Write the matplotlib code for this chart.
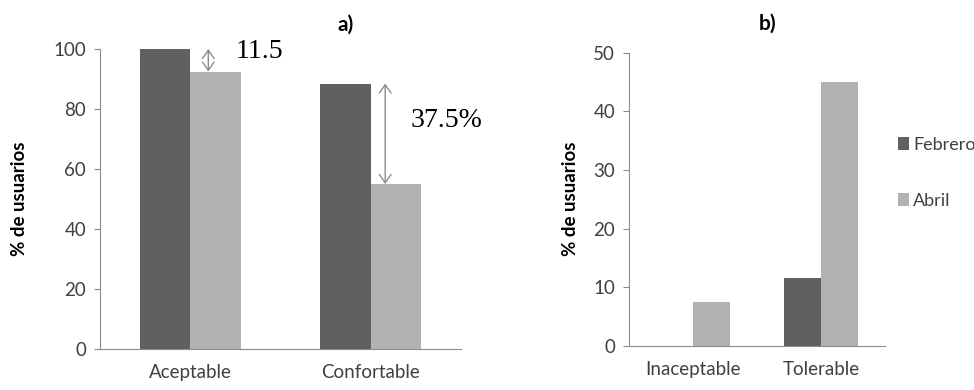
import numpy as np
import matplotlib.pyplot as plt

plt.rcParams['font.family'] = ['Lato', 'DejaVu Sans']

# panel a
cats_a = ["Aceptable", "Confortable"]
febrero_a = [100, 88.5]
abril_a = [92.5, 55]

# panel b
cats_b = ["Inaceptable", "Tolerable"]
febrero_b = [0, 11.5]
abril_b = [7.5, 45]

series = ["Febrero", "Abril"]
dark = "#606060"
light = "#b2b2b2"
axis_col = "#8c8c8c"
txt_col = "#404040"

fig = plt.figure(figsize=(9.74, 3.9), dpi=100)
ax1 = fig.add_axes([100 / 974, 41 / 390, 361 / 974, 300 / 390])
ax2 = fig.add_axes([629 / 974, 44.3 / 390, 256 / 974, 293 / 390])


def style(ax, cats, ymax, step):
    ax.set_xlim(-0.5, 1.5)
    ax.set_ylim(0, ymax)
    ax.set_yticks(np.arange(0, ymax + 1, step))
    ax.set_xticks(range(len(cats)))
    ax.set_xticklabels(cats, fontsize=13.5, color=txt_col)
    for s in ["top", "right"]:
        ax.spines[s].set_visible(False)
    for s in ["left", "bottom"]:
        ax.spines[s].set_color(axis_col)
    ax.tick_params(axis="y", length=4, color=axis_col, labelsize=13.5, labelcolor=txt_col, pad=6)
    ax.tick_params(axis="x", length=0, pad=11)
    ax.set_ylabel("% de usuarios", fontsize=13.5, fontweight="bold")


x = np.arange(2)
w = 0.28
ax1.bar(x - w / 2, febrero_a, w, color=dark, label=series[0])
ax1.bar(x + w / 2, abril_a, w, color=light, label=series[1])
style(ax1, cats_a, 100, 20)
ax1.yaxis.set_label_coords(-0.2, 0.5)
ax1.set_title("a)", fontsize=15, fontweight="bold", x=0.68, y=1.035)

# difference arrows
arrow = dict(arrowstyle="<->,head_length=0.5,head_width=0.35", color="#8c8c8c",
             lw=1, mutation_scale=12, shrinkA=0, shrinkB=0)
ax1.annotate("", xy=(0.1, abril_a[0]), xytext=(0.1, febrero_a[0]), arrowprops=arrow)
ax1.annotate("", xy=(1.08, abril_a[1]), xytext=(1.08, febrero_a[1]), arrowprops=arrow)
ax1.text(0.25, 99, "11.5", fontsize=20, family="Liberation Serif", va="center")
ax1.text(1.22, 76.3, "37.5%", fontsize=20, family="Liberation Serif", va="center")

w2 = 0.29
ax2.bar(x - w2 / 2, febrero_b, w2, color=dark, label=series[0])
ax2.bar(x + w2 / 2, abril_b, w2, color=light, label=series[1])
style(ax2, cats_b, 50, 10)
ax2.yaxis.set_label_coords(-0.195, 0.5)
ax2.set_title("b)", fontsize=15, fontweight="bold", x=0.54, y=1.05)

fig.legend(*ax2.get_legend_handles_labels(), loc="center left",
           bbox_to_anchor=(889 / 974, 1 - 173 / 390), frameon=False,
           fontsize=13, handlelength=0.6, handleheight=0.75,
           handletextpad=0.25, labelspacing=2.2, borderpad=0,
           labelcolor=txt_col)

fig.savefig("out.png", dpi=100)
